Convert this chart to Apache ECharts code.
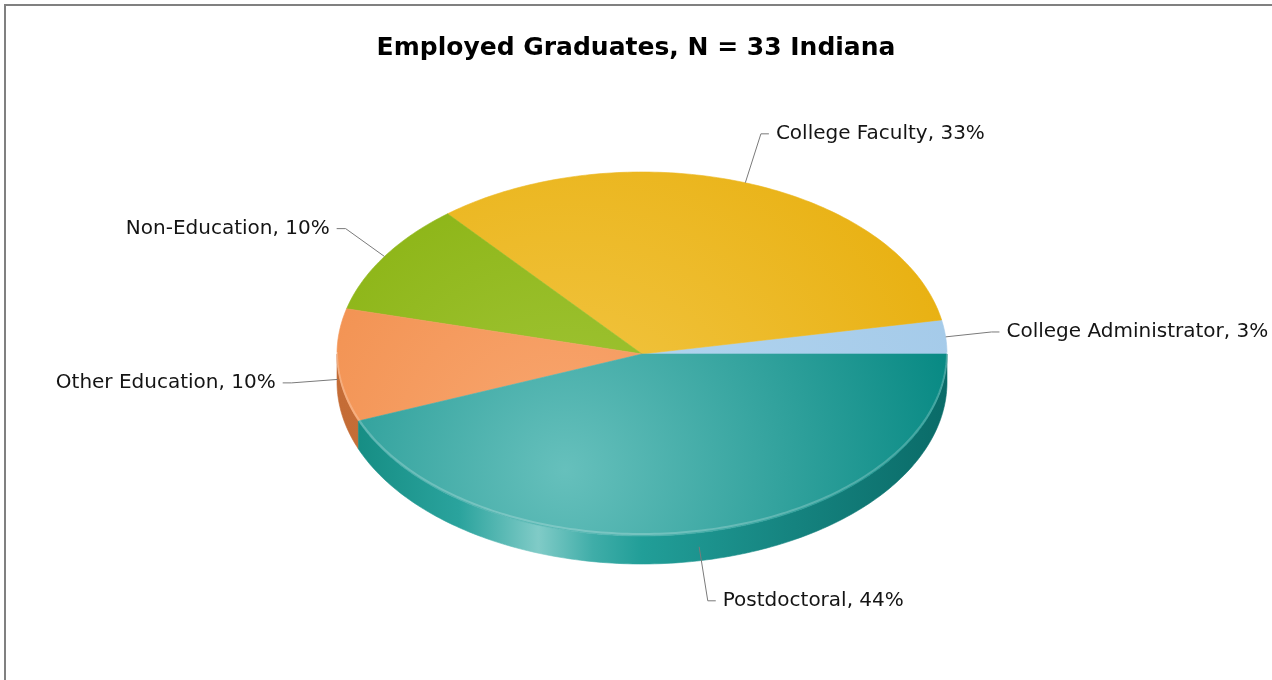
<!DOCTYPE html>
<html>
<head>
<meta charset="utf-8">
<script src="https://cdn.jsdelivr.net/npm/echarts@6/dist/echarts.min.js"></script>
<style>
html, body { margin: 0; padding: 0; background: #fff; }
#main { width: 1272px; height: 680px; }
</style>
</head>
<body>
<div id="main"></div>
<script>
// data
var categories = ['College Administrator', 'College Faculty', 'Non-Education', 'Other Education', 'Postdoctoral'];
var percents = [3, 33, 10, 10, 44];
var titleText = 'Employed Graduates, N = 33 Indiana';

// look of the slices (top face: light centre -> edge, side wall: gradient stops)
var topColors = [
    ['#b6d8f1', '#a4cae9'],
    ['#f3c84a', '#e8b010'],
    ['#a3c73c', '#84ae08'],
    ['#f9a872', '#ef8843'],
    ['#66c0bc', '#00857f']
];
var sideStops = [
    [[0, '#8db2cf'], [1, '#7da3c0']],
    [[0, '#d09a12'], [1, '#bd8906']],
    [[0, '#6e9307'], [1, '#5d8004']],
    [[0, '#c46c36'], [0.2, '#c8713a'], [1, '#b8642e']],
    [[0, '#12897f'], [0.2, '#2aa39d'], [0.33, '#80cbc7'], [0.42, '#3fada8'], [0.5, '#219e98'], [0.75, '#15837f'], [1, '#0a6b68']]
];

var cx = 642, cy = 354, rx = 305, ry = 182, depth = 28;
var labelFont = '20px "DejaVu Sans", Verdana, sans-serif';

var total = percents.reduce(function (a, b) { return a + b; }, 0);
var starts = [];
var acc = 0;
percents.forEach(function (v) { starts.push(acc / total * 360); acc += v; });

function pt(deg, dy) {
    var t = deg * Math.PI / 180;
    return [cx + rx * Math.cos(t), cy - ry * Math.sin(t) + (dy || 0)];
}
function arcPoints(a0, a1, dy) {
    var pts = [];
    var n = Math.max(2, Math.ceil(a1 - a0));
    for (var k = 0; k <= n; k++) pts.push(pt(a0 + (a1 - a0) * k / n, dy));
    return pts;
}

function renderSlice(params, api) {
    var i = params.dataIndex;
    var v = api.value(0);
    var a0 = starts[i], a1 = a0 + v / total * 360;
    var children = [];

    // front wall
    var s0 = Math.max(a0, 180), s1 = Math.min(a1, 360);
    if (s1 > s0) {
        var wallFill = new echarts.graphic.LinearGradient(cx - rx, 0, cx + rx, 0, sideStops[i].map(function (s) {
            return { offset: s[0], color: s[1] };
        }), true);
        children.push({
            type: 'polygon', z2: 1,
            shape: { points: arcPoints(s0, s1, 0).concat(arcPoints(s0, s1, depth).reverse()) },
            style: { fill: wallFill, stroke: wallFill, lineWidth: 0.6 }
        });
    }

    // top face
    var topFill = new echarts.graphic.RadialGradient(565, 470, 430, [
        { offset: 0, color: topColors[i][0] },
        { offset: 1, color: topColors[i][1] }
    ], true);
    children.push({
        type: 'polygon', z2: 10,
        shape: { points: [[cx, cy]].concat(arcPoints(a0, a1, 0)) },
        style: { fill: topFill, stroke: topFill, lineWidth: 0.6 }
    });
    // rim highlight
    if (s1 > s0) {
        children.push({
            type: 'polyline', z2: 11,
            shape: { points: arcPoints(s0, s1, -2) },
            style: { stroke: 'rgba(255,255,255,0.22)', lineWidth: 2, fill: null }
        });
    }

    // label with leader line
    var mid = (a0 + a1) / 2;
    var t = mid * Math.PI / 180;
    var front = Math.sin(t) < 0;
    var off = front ? depth / 2 : 0;
    var anchor = pt(mid, off);
    var elbow = [cx + (rx + 46) * Math.cos(t), cy - (ry + (front ? 55 : 52)) * Math.sin(t) + off];
    var right = Math.cos(t) >= 0;
    var end = [elbow[0] + (right ? 8 : -9), elbow[1]];
    children.push({
        type: 'polyline', z2: 20,
        shape: { points: [anchor, elbow, end] },
        style: { stroke: '#7a7a7a', lineWidth: 1, fill: null }
    });
    children.push({
        type: 'text', z2: 21,
        style: {
            text: categories[i] + ', ' + v + '%',
            x: end[0] + (right ? 7 : -7),
            y: end[1],
            align: right ? 'left' : 'right',
            verticalAlign: 'middle',
            font: labelFont,
            fill: '#141414'
        }
    });

    return { type: 'group', children: children };
}

var mychart = echarts.init(document.getElementById('main'));

var option = {
    animation: false,
    title: {
        text: titleText,
        left: 'center',
        top: 31,
        textStyle: {
            color: '#000',
            fontSize: 25,
            fontWeight: 'bold',
            fontFamily: '"DejaVu Sans", Verdana, sans-serif'
        }
    },
    graphic: [{
        type: 'rect',
        silent: true,
        shape: { x: 5, y: 5, width: 1400, height: 800 },
        style: { fill: null, stroke: '#808080', lineWidth: 2 }
    }],
    series: [{
        type: 'custom',
        coordinateSystem: 'none',
        renderItem: renderSlice,
        data: categories.map(function (c, i) { return { name: c, value: [percents[i]] }; })
    }]
};
mychart.setOption(option);
</script>
</body>
</html>
